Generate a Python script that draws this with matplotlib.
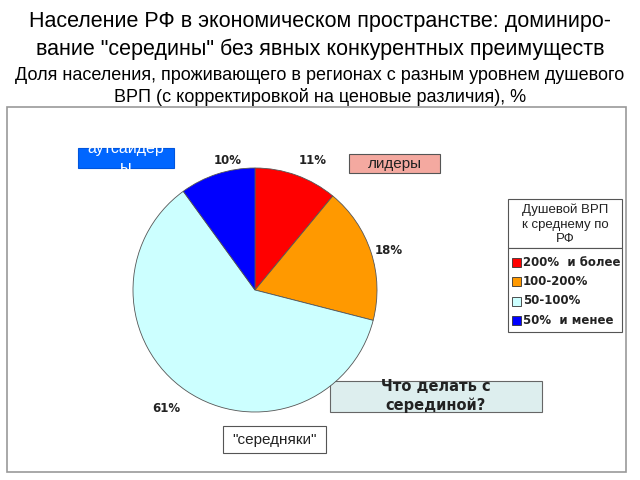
import matplotlib
matplotlib.use("Agg")
import matplotlib.pyplot as plt
from matplotlib.patches import Rectangle

plt.rcParams['font.family'] = ['Liberation Sans', 'DejaVu Sans']

# Data
categories = ['200%  и более', '100-200%', '50-100%', '50%  и менее']
shares = [11, 18, 61, 10]
colors = ['#FF0000', '#FF9900', '#CCFFFF', '#0000FF']

title_lines = ['Население РФ в экономическом пространстве: доминиро-',
               'вание "середины" без явных конкурентных преимуществ']
subtitle_lines = ['Доля населения, проживающего в регионах с разным уровнем душевого',
                  'ВРП (с корректировкой на ценовые различия), %']
legend_title = 'Душевой ВРП\nк среднему по\nРФ'

W, H = 640, 480
fig = plt.figure(figsize=(6.4, 4.8), dpi=100)

# overlay in pixel coordinates
ov = fig.add_axes([0, 0, 1, 1])
ov.set_xlim(0, W)
ov.set_ylim(H, 0)
ov.axis('off')

ov.text(320, 21, title_lines[0], ha='center', va='center', fontsize=15.5)
ov.text(320, 49, title_lines[1], ha='center', va='center', fontsize=15.5)
ov.text(320, 75, subtitle_lines[0], ha='center', va='center', fontsize=13)
ov.text(320, 97, subtitle_lines[1], ha='center', va='center', fontsize=13)

# outer frame
ov.add_patch(Rectangle((7, 107), 619, 365, fill=False, ec='#999999', lw=1.2))

# pie
cx, cy, r = 255, 290, 122
pax = fig.add_axes([(cx - r) / W, (H - cy - r) / H, 2 * r / W, 2 * r / H])
wedges, _ = pax.pie(shares, colors=colors, startangle=90, counterclock=False,
                    wedgeprops=dict(edgecolor='#555555', linewidth=0.6))
pax.set_xlim(-1, 1)
pax.set_ylim(-1, 1)
pax.set_aspect('auto')

# percent labels
label_pos = [(313, 161), (389, 250), (166, 408), (228, 160)]
for (x, y), v in zip(label_pos, shares):
    ov.text(x, y, f'{v}%', ha='center', va='center', fontsize=8.5,
            fontweight='bold', family='DejaVu Sans', color='#222222')

# "аутсайдеры" box
box = Rectangle((78, 148), 96, 20, fc='#0066FF', ec='#0055DD', lw=0.8)
ov.add_patch(box)
t = ov.text(126, 141, 'аутсайдер\nы', ha='center', va='top', fontsize=11.5,
            color='white', linespacing=1.25)
t.set_clip_path(box)

# "лидеры" box
ov.add_patch(Rectangle((349, 154), 91, 19, fc='#F4A9A0', ec='#555555', lw=0.8))
ov.text(394.5, 164, 'лидеры', ha='center', va='center', fontsize=11, color='#222222')

# legend title box
ov.add_patch(Rectangle((508, 199), 114, 49, fc='white', ec='#555555', lw=0.8))
ov.text(565, 224.5, legend_title, ha='center', va='center', fontsize=9.5,
        color='#222222', linespacing=1.3)

# legend items box
ov.add_patch(Rectangle((508, 248), 114, 84, fc='white', ec='#555555', lw=0.8))
for i, (lab, c) in enumerate(zip(categories, colors)):
    y = 262 + i * 19.5
    ov.add_patch(Rectangle((512, y - 4.5), 9, 9, fc=c, ec='#333333', lw=0.6))
    ov.text(523, y, lab, ha='left', va='center', fontsize=8.5, fontweight='bold',
            family='DejaVu Sans', color='#222222')

# "Что делать с серединой?" box
ov.add_patch(Rectangle((330, 381), 212, 31, fc='#DDEEEE', ec='#666666', lw=0.8))
ov.text(436, 396, 'Что делать с\nсерединой?', ha='center', va='center',
        fontsize=10.5, fontweight='bold', family='DejaVu Sans', color='#222222',
        linespacing=1.35)

# "середняки" box
ov.add_patch(Rectangle((223, 426), 103, 27, fc='white', ec='#555555', lw=0.8))
ov.text(274.5, 440, '"середняки"', ha='center', va='center', fontsize=11,
        color='#222222')

fig.savefig('out.png', dpi=100)
